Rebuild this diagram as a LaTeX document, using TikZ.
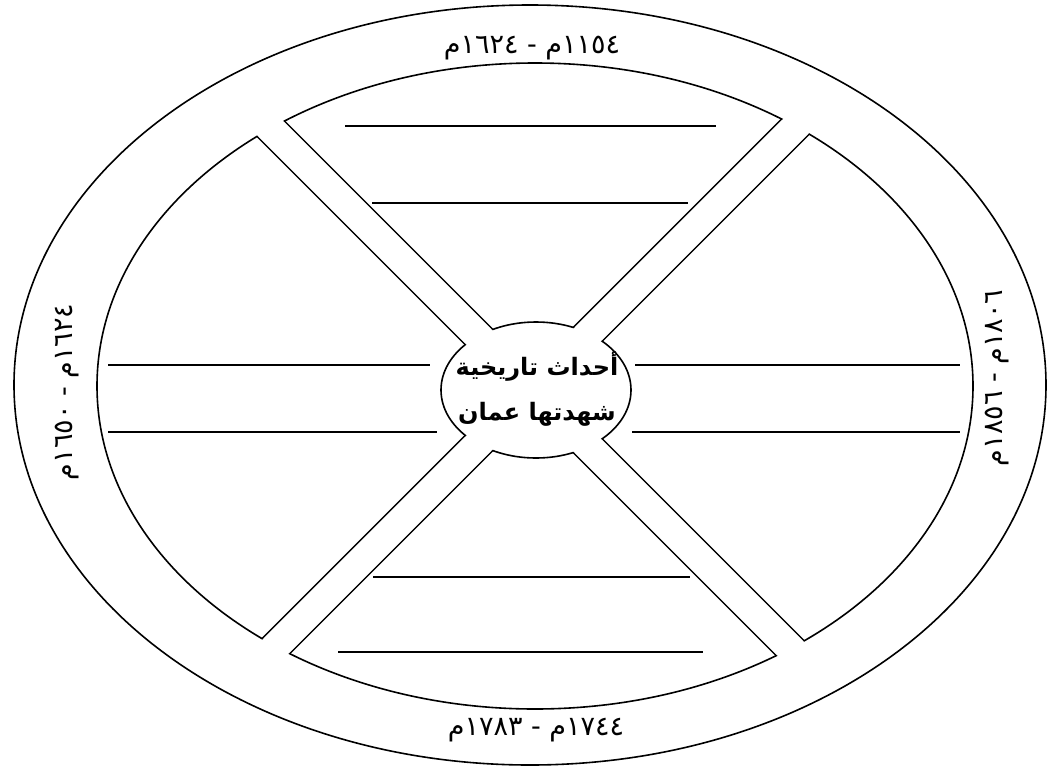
\documentclass[tikz,border=0pt]{standalone}
\usepackage{fontspec}
\newfontfamily\arabicfont[Script=Arabic]{DejaVu Sans}
\TeXXeTstate=1
\begin{document}
\begin{tikzpicture}[x=1pt,y=-1pt,
  outline/.style={draw=black, line width=1.6pt},
  writeline/.style={draw=black, line width=1.7pt},
  datelabel/.style={font=\arabicfont\fontsize{27}{30}\selectfont, inner sep=0pt},
  titlelabel/.style={font=\arabicfont\bfseries\fontsize{24}{45}\selectfont, align=center, inner sep=0pt}]
\fill[white] (0,0) rectangle (1050,769);
\useasboundingbox (0,0) rectangle (1050,769);
\coordinate (O) at (530,385);
\coordinate (I) at (535,386);
\coordinate (X) at (532,390);
\coordinate (M) at (536,390);
% outer ring and inner field
\draw[outline] (O) ellipse [x radius=516pt, y radius=380pt];
\draw[outline] (I) ellipse [x radius=438pt, y radius=323pt];
% diagonal band edges
\begin{scope}
  \clip (I) ellipse [x radius=438pt, y radius=323pt];
  \foreach \a in {45,-45} {
    \begin{scope}[shift={(X)}, rotate=\a]
      \draw[outline] (-700,15) -- (700,15) (-700,-15) -- (700,-15);
    \end{scope}
  }
\end{scope}
% central ellipse
\draw[outline, fill=white] (M) ellipse [x radius=95pt, y radius=68pt];
% open the bands
\begin{scope}
  \clip (I) ellipse [x radius=443pt, y radius=328pt];
  \foreach \a in {45,-45} {
    \begin{scope}[shift={(X)}, rotate=\a]
      \fill[white] (-700,-14.15) rectangle (700,14.15);
    \end{scope}
  }
\end{scope}
% writing lines
\draw[writeline] (345,126) -- (716,126);
\draw[writeline] (372,203) -- (688,203);
\draw[writeline] (108,365) -- (430,365);
\draw[writeline] (108,432) -- (437,432);
\draw[writeline] (635,365) -- (960,365);
\draw[writeline] (632,432) -- (960,432);
\draw[writeline] (373,577) -- (690,577);
\draw[writeline] (338,652) -- (703,652);
% labels
\node[datelabel] (ptop) at (532,48) {\beginR ١١٥٤م - ١٦٢٤م\endR};
\node[datelabel] (pbottom) at (536,730) {\beginR ١٧٤٤م - ١٧٨٣م\endR};
\node[datelabel, rotate=90] (pleft) at (67,392) {\beginR ١٦٢٤م - ١٦٥٠م\endR};
\node[datelabel, rotate=90] (pright) at (997,378) {\beginR ١٨٠٦م - ١٨٥٦م\endR};
\node[titlelabel] (title) at (537,389) {\beginR أحداث تاريخية\endR\\\beginR شهدتها عمان\endR};
\end{tikzpicture}
\end{document}
